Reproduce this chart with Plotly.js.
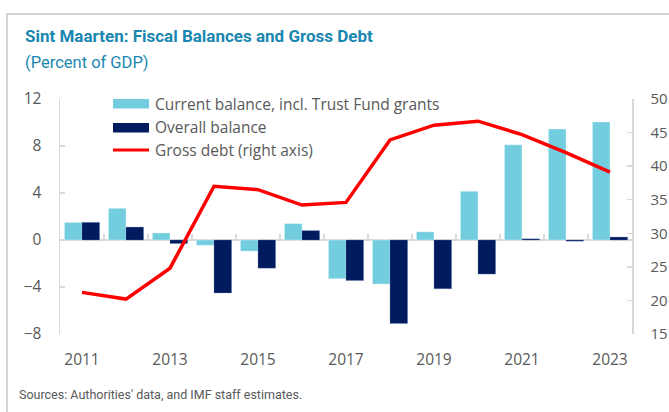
<!DOCTYPE html>
<html>
<head>
<meta charset="utf-8">
<script src="https://cdn.plot.ly/plotly-3.0.1.min.js"></script>
<style>
  html, body { margin:0; padding:0; background:#ffffff; }
  #frame { position:absolute; left:6px; top:13px; width:663px; height:399px;
           border-top:2px solid #D3D3D3; border-left:2px solid #D3D3D3; box-sizing:border-box; }
  #chart { position:absolute; left:0; top:0; width:669px; height:412px; }
</style>
</head>
<body>
<div id="frame"></div>
<div id="chart"></div>
<script>
// ---- data ----
const years = ['2011','2012','2013','2014','2015','2016','2017','2018','2019','2020','2021','2022','2023'];
const currentBalance = [1.5, 2.7, 0.6, -0.45, -0.95, 1.4, -3.3, -3.75, 0.7, 4.15, 8.1, 9.45, 10.05];
const overallBalance = [1.5, 1.1, -0.3, -4.5, -2.4, 0.8, -3.45, -7.1, -4.15, -2.9, 0.1, -0.1, 0.25];
const grossDebt = [21.2, 20.2, 24.8, 37.0, 36.5, 34.2, 34.6, 43.9, 46.1, 46.7, 44.7, 42.0, 39.1];
const xTickLabels = ['2011','2013','2015','2017','2019','2021','2023'];
const leftTicks = [-8, -4, 0, 4, 8, 12];
const rightTicks = [15, 20, 25, 30, 35, 40, 45, 50];
const seriesNames = ['Current balance, incl. Trust Fund grants', 'Overall balance', 'Gross debt (right axis)'];
const titleText = 'Sint Maarten: Fiscal Balances and Gross Debt';
const subtitleText = '(Percent of GDP)';
const sourceText = "Sources: Authorities' data, and IMF staff estimates.";

// ---- style ----
const LIGHT = '#72CDDF', DARK = '#001B5E', RED = '#FF0000';
const GRAY_TXT = '#595959', AXIS = '#D9D9D9', BLUE_T = '#1A87B0';
const FONT = 'Open Sans, Noto Sans, sans-serif';
const NFONT = 'Roboto, Open Sans, sans-serif';

// plot area in pixels (for layout helpers)
const W = 669, H = 412, L = 60, R = 37, T = 99, B = 78;
const pw = W - L - R, ph = H - T - B;
const px = x => (x - L) / pw;
const py = y => (H - B - y) / ph;

// category boundaries for tick marks on the zero line
const boundaries = years.slice(1).map((_, i) => i + 0.5);

const traces = [
  { type:'bar', x: years, y: currentBalance, name: seriesNames[0],
    marker:{ color: LIGHT, line:{ color:'rgba(255,255,255,0.7)', width:0.5 } }, showlegend:false },
  { type:'bar', x: years, y: overallBalance, name: seriesNames[1],
    marker:{ color: DARK, line:{ color:'rgba(120,140,190,0.6)', width:0.5 } }, showlegend:false },
  { type:'scatter', mode:'lines', x: years, y: grossDebt, yaxis:'y2', name: seriesNames[2],
    line:{ color: RED, width:3.5 }, showlegend:false },
  { type:'scatter', x: [], y: [], xaxis:'x2', showlegend:false, hoverinfo:'skip' }
];

const legendShapes = [
  { type:'rect', xref:'paper', yref:'paper', x0:px(113), x1:px(149), y0:py(108.5), y1:py(99),
    fillcolor: LIGHT, line:{ width:0 } },
  { type:'rect', xref:'paper', yref:'paper', x0:px(113), x1:px(149), y0:py(132.5), y1:py(123),
    fillcolor: DARK, line:{ width:0 } },
  { type:'line', xref:'paper', yref:'paper', x0:px(113), x1:px(149), y0:py(150), y1:py(150),
    line:{ color: RED, width:3 } }
];
const legendRowsY = [103.5, 127, 150];
const legendAnnots = seriesNames.map((n, i) => ({
  xref:'paper', yref:'paper', x:px(153), y:py(legendRowsY[i]), xanchor:'left', yanchor:'middle',
  text:n, showarrow:false, font:{ family:FONT, size:15.5, color:GRAY_TXT }
}));

const layout = {
  width: W, height: H,
  margin: { l:L, r:R, t:T, b:B, pad:0 },
  paper_bgcolor:'rgba(0,0,0,0)', plot_bgcolor:'rgba(0,0,0,0)',
  barmode:'group', bargap: 0.2, bargroupgap: 0,
  showlegend:false,
  font:{ family:FONT, color:GRAY_TXT },
  xaxis:{ type:'category', range:[-0.5, 12.5], tickmode:'array', tickvals:xTickLabels, ticktext:xTickLabels,
          ticks:'', showline:false, showgrid:false, zeroline:false,
          tickfont:{ family:FONT, size:15.5, color:GRAY_TXT }, ticklabelstandoff:14 },
  xaxis2:{ type:'linear', overlaying:'x', anchor:'free', side:'top', position: py(240),
           range:[-0.5, 12.5], tickmode:'array', tickvals:boundaries, ticks:'outside', ticklen:6,
           tickcolor:AXIS, tickwidth:1.5, showticklabels:false, showline:false, showgrid:false, zeroline:false },
  yaxis:{ range:[-8, 12], tickmode:'array', tickvals:leftTicks, ticks:'inside', ticklen:5,
          tickcolor:AXIS, tickwidth:1.5, showline:true, linecolor:AXIS, linewidth:1.5,
          showgrid:false, zeroline:true, zerolinecolor:AXIS, zerolinewidth:1.5,
          tickfont:{ family:FONT, size:15.5, color:GRAY_TXT }, ticklabelstandoff:14 },
  yaxis2:{ overlaying:'y', side:'right', range:[15, 50], tickmode:'array', tickvals:rightTicks,
           ticks:'inside', ticklen:5, tickcolor:AXIS, tickwidth:1.5, showline:true, linecolor:AXIS,
           linewidth:1.5, showgrid:false, zeroline:false,
           tickfont:{ family:FONT, size:15, color:GRAY_TXT }, ticklabelstandoff:14 },
  shapes: legendShapes,
  annotations: [
    { xref:'paper', yref:'paper', x:px(23), y:py(36), xanchor:'left', yanchor:'middle', showarrow:false,
      text:'<b>' + titleText + '</b>', font:{ family:NFONT, size:17, color:BLUE_T } },
    { xref:'paper', yref:'paper', x:px(23), y:py(62), xanchor:'left', yanchor:'middle', showarrow:false,
      text:subtitleText, font:{ family:NFONT, size:16.5, color:BLUE_T } },
    { xref:'paper', yref:'paper', x:px(17), y:py(394), xanchor:'left', yanchor:'middle', showarrow:false,
      text:sourceText, font:{ family:NFONT, size:12.5, color:GRAY_TXT } }
  ].concat(legendAnnots)
};

Plotly.newPlot('chart', traces, layout, { displayModeBar:false, staticPlot:true });
</script>
</body>
</html>
